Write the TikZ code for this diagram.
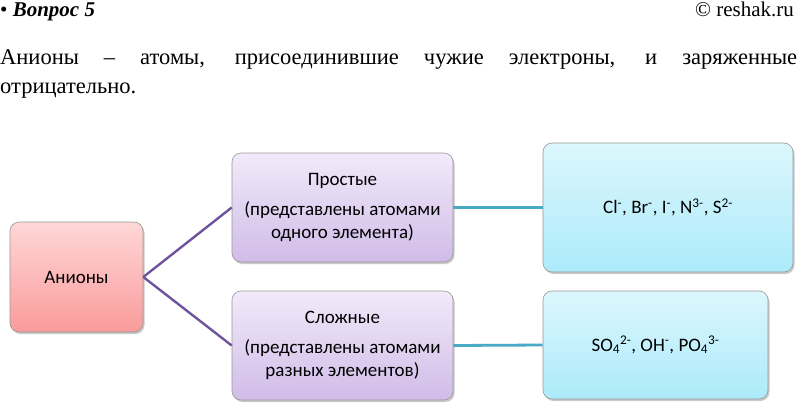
\documentclass[tikz,border=0pt]{standalone}
\usepackage{fontspec}
\setmainfont{Liberation Serif}
\newfontfamily\boxfont{Carlito}
\usetikzlibrary{shadows}
\definecolor{pinkT}{RGB}{255,215,215}
\definecolor{pinkB}{RGB}{250,155,155}
\definecolor{purT}{RGB}{242,234,250}
\definecolor{purB}{RGB}{208,188,232}
\definecolor{cyT}{RGB}{220,247,253}
\definecolor{cyB}{RGB}{172,234,250}
\definecolor{edgeG}{RGB}{150,150,150}
\definecolor{purLine}{RGB}{112,84,155}
\definecolor{tealLine}{RGB}{72,170,196}
\tikzset{
  cbox/.style={draw=edgeG, line width=0.6pt, rounded corners=9pt, align=center,
    font=\boxfont\fontsize{19}{23}\selectfont, inner sep=2pt,
    drop shadow={shadow xshift=1.5pt, shadow yshift=-2pt, opacity=0.35, fill=black!60}},
  pinkbox/.style={cbox, top color=pinkT, bottom color=pinkB},
  purbox/.style={cbox, top color=purT, bottom color=purB},
  cybox/.style={cbox, top color=cyT, bottom color=cyB},
  purconn/.style={draw=purLine, line width=2.4pt},
  tealconn/.style={draw=tealLine, line width=2.8pt},
  txt/.style={inner sep=0pt, font=\fontsize{22.5}{28}\selectfont},
  htxt/.style={inner sep=0pt, font=\fontsize{21}{25}\selectfont}
}
\begin{document}
\begin{tikzpicture}[x=1pt,y=-1pt]
\useasboundingbox (0,0) rectangle (797,407);
% header
\node[htxt, anchor=base west] (hdr) at (0,16) {\textbullet\ \textbf{\textit{Вопрос 5}}};
\node[htxt, anchor=base east] (copy) at (794,16) {© reshak.ru};
\node[txt, anchor=base west] (line1) at (0,64)
  {\makebox[797pt][s]{Анионы – атомы, присоединившие чужие электроны, и заряженные}};
\node[txt, anchor=base west] (line2) at (0,93) {отрицательно.};
% boxes
\node[pinkbox, minimum width=133pt, minimum height=110pt] (an) at (76.5,277) {Анионы};
\node[purbox, minimum width=221pt, minimum height=109pt] (pr) at (342.5,207.5)
  {Простые\\[7pt](представлены атомами\\одного элемента)};
\node[purbox, minimum width=221pt, minimum height=109pt] (sl) at (342.5,345.5)
  {Сложные\\[7pt](представлены атомами\\разных элементов)};
\node[cybox, minimum width=250pt, minimum height=129pt] (cl) at (668,207.5)
  {Cl\textsuperscript{-}, Br\textsuperscript{-}, I\textsuperscript{-}, N\textsuperscript{3-}, S\textsuperscript{2-}};
\node[cybox, minimum width=225pt, minimum height=108pt] (so) at (655.5,345)
  {SO\textsubscript{4}\textsuperscript{2-}, OH\textsuperscript{-}, PO\textsubscript{4}\textsuperscript{3-}};
% connectors
\draw[purconn] (an.east) -- (pr.west);
\draw[purconn] (an.east) -- (sl.west);
\draw[tealconn] (pr.east) -- (cl.west);
\draw[tealconn] (sl.east) -- (so.west);
\end{tikzpicture}
\end{document}
